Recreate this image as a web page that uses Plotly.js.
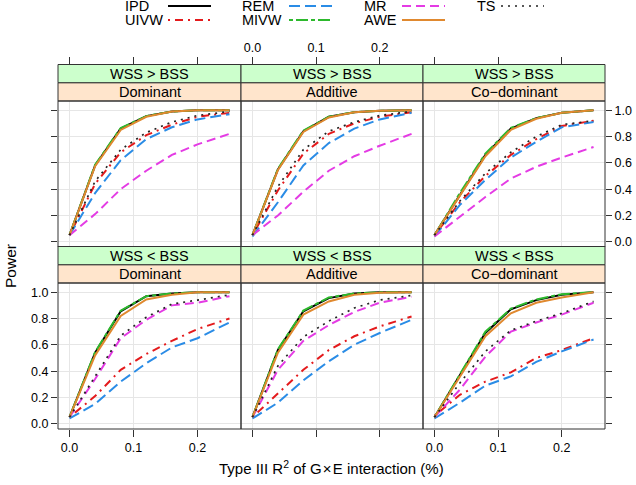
<!DOCTYPE html>
<html>
<head>
<meta charset="utf-8">
<script src="https://cdn.plot.ly/plotly-3.0.1.min.js"></script>
<style>html,body{margin:0;padding:0;background:#fff;}#chart{width:636px;height:485px;}</style>
</head>
<body>
<div id="chart"></div>
<script>
// x values: Type III R^2 of GxE interaction
const xR2 = [0, 0.04, 0.08, 0.12, 0.16, 0.20, 0.25];
// panel labels (order: top-left, top-mid, top-right, bottom-left, bottom-mid, bottom-right)
const stripOuter = ['WSS > BSS', 'WSS > BSS', 'WSS > BSS', 'WSS < BSS', 'WSS < BSS', 'WSS < BSS'];
const stripInner = ['Dominant', 'Additive', 'Co\u2212dominant', 'Dominant', 'Additive', 'Co\u2212dominant'];
const xTickVals = [0, 0.1, 0.2];
const xTickText = ['0.0', '0.1', '0.2'];
const yTickVals = [0, 0.2, 0.4, 0.6, 0.8, 1.0];
const yTickText = ['0.0', '0.2', '0.4', '0.6', '0.8', '1.0'];

// power values per method, one row per panel
const IPD = [
  [0.05, 0.58, 0.86, 0.955, 0.99, 1.0, 1.0],
  [0.05, 0.55, 0.84, 0.95, 0.985, 0.995, 1.0],
  [0.05, 0.36, 0.66, 0.86, 0.94, 0.98, 1.0],
  [0.05, 0.54, 0.855, 0.97, 0.99, 1.0, 1.0],
  [0.05, 0.56, 0.855, 0.955, 0.99, 1.0, 1.0],
  [0.05, 0.37, 0.69, 0.87, 0.94, 0.98, 1.0]
];
const UIVW = [
  [0.05, 0.44, 0.68, 0.81, 0.89, 0.95, 0.98],
  [0.05, 0.39, 0.67, 0.82, 0.90, 0.95, 0.985],
  [0.05, 0.30, 0.50, 0.66, 0.78, 0.88, 0.92],
  [0.05, 0.21, 0.41, 0.53, 0.63, 0.72, 0.80],
  [0.05, 0.23, 0.41, 0.56, 0.665, 0.74, 0.815],
  [0.06, 0.22, 0.32, 0.39, 0.50, 0.56, 0.65]
];
const REM = [
  [0.05, 0.37, 0.62, 0.78, 0.87, 0.93, 0.97],
  [0.04, 0.30, 0.58, 0.75, 0.86, 0.93, 0.98],
  [0.04, 0.28, 0.47, 0.64, 0.76, 0.87, 0.91],
  [0.04, 0.15, 0.32, 0.46, 0.58, 0.65, 0.77],
  [0.04, 0.16, 0.33, 0.475, 0.60, 0.69, 0.79],
  [0.04, 0.16, 0.29, 0.36, 0.47, 0.55, 0.64]
];
const MIVW = [
  [0.05, 0.585, 0.865, 0.955, 0.99, 1.0, 1.0],
  [0.05, 0.555, 0.845, 0.95, 0.985, 0.995, 1.0],
  [0.05, 0.37, 0.67, 0.865, 0.94, 0.98, 1.0],
  [0.05, 0.545, 0.86, 0.97, 0.99, 1.0, 1.0],
  [0.05, 0.565, 0.86, 0.96, 0.99, 1.0, 1.0],
  [0.05, 0.375, 0.70, 0.875, 0.945, 0.985, 1.0]
];
const MR = [
  [0.05, 0.21, 0.40, 0.54, 0.66, 0.74, 0.82],
  [0.05, 0.20, 0.38, 0.54, 0.65, 0.73, 0.82],
  [0.04, 0.19, 0.34, 0.48, 0.57, 0.64, 0.72],
  [0.05, 0.34, 0.65, 0.79, 0.90, 0.92, 0.97],
  [0.05, 0.41, 0.63, 0.75, 0.85, 0.92, 0.965],
  [0.05, 0.26, 0.51, 0.70, 0.77, 0.83, 0.92]
];
const AWE = [
  [0.05, 0.575, 0.85, 0.95, 0.99, 1.0, 1.0],
  [0.05, 0.545, 0.835, 0.945, 0.985, 0.995, 1.0],
  [0.05, 0.355, 0.65, 0.85, 0.935, 0.98, 1.0],
  [0.05, 0.52, 0.82, 0.945, 0.98, 1.0, 1.0],
  [0.05, 0.54, 0.83, 0.93, 0.98, 0.995, 1.0],
  [0.05, 0.36, 0.665, 0.84, 0.92, 0.96, 1.0]
];
const TS = [
  [0.05, 0.46, 0.70, 0.83, 0.91, 0.96, 0.99],
  [0.05, 0.42, 0.70, 0.84, 0.91, 0.96, 0.99],
  [0.05, 0.31, 0.52, 0.68, 0.80, 0.89, 0.92],
  [0.05, 0.36, 0.67, 0.81, 0.91, 0.94, 0.98],
  [0.05, 0.44, 0.66, 0.78, 0.88, 0.94, 0.975],
  [0.05, 0.31, 0.55, 0.71, 0.78, 0.84, 0.93]
];

const methodNames = ['IPD', 'UIVW', 'REM', 'MIVW', 'MR', 'AWE', 'TS'];
const methodData = [IPD, UIVW, REM, MIVW, MR, AWE, TS];
const methodColors = ['#000000', '#E41A1C', '#2A8CE6', '#2DB92D', '#E43BE4', '#E0892F', '#222222'];
const methodDash = ['solid', '2px,5px,8px,5px', '11px,5px', '4px,3px,12px,3px', '9px,5px', 'solid', '2px,5px'];
const methodWidth = [2, 2, 2, 2, 2, 2, 1.7];

// layout geometry (pixels)
const W = 636, H = 485;
const colPx = [[58, 241], [241, 423], [423, 605]];
const rowPx = [[101, 247], [283, 429]];
const FONT = 'Liberation Sans, Arial, Helvetica, sans-serif';

const traces = [];
for (let p = 0; p < 6; p++) {
  for (let m = 0; m < methodNames.length; m++) {
    traces.push({
      type: 'scatter', mode: 'lines',
      x: xR2, y: methodData[m][p],
      xaxis: 'x' + (p + 1), yaxis: 'y' + (p + 1),
      name: ' ',
      legend: m === 0 ? 'legend' : 'legend' + (m + 1),
      showlegend: p === 0,
      line: {color: methodColors[m], width: methodWidth[m], dash: methodDash[m]},
      hoverinfo: 'skip'
    });
  }
}

const layout = {
  width: W, height: H,
  margin: {l: 0, r: 0, t: 0, b: 0, autoexpand: false},
  paper_bgcolor: '#ffffff', plot_bgcolor: '#ffffff',
  font: {family: FONT, size: 12.5, color: '#000'},
  shapes: [], annotations: []
};

const xRange = [-0.018, 0.268];
const yRange = [-0.04, 1.07];
for (let p = 0; p < 6; p++) {
  const r = Math.floor(p / 3), c = p % 3;
  const xd = [colPx[c][0] / W, colPx[c][1] / W];
  const yd = [1 - rowPx[r][1] / H, 1 - rowPx[r][0] / H];
  const xa = {
    domain: xd, range: xRange, tickvals: xTickVals, ticktext: xTickText,
    showgrid: true, gridcolor: '#E6E6E6', gridwidth: 1, zeroline: false, showline: false,
    ticks: 'outside', ticklen: 7, tickcolor: '#333', tickwidth: 1,
    tickfont: {family: FONT, size: 12.5, color: '#000'}, fixedrange: true
  };
  if (r === 0) {
    xa.anchor = 'free'; xa.position = 1 - 64 / H; xa.side = 'top';
    xa.showticklabels = (c === 1);
  } else {
    xa.anchor = 'y' + (p + 1); xa.side = 'bottom';
    xa.showticklabels = (c !== 1);
  }
  const ya = {
    domain: yd, range: yRange, tickvals: yTickVals, ticktext: yTickText,
    anchor: 'x' + (p + 1),
    showgrid: true, gridcolor: '#E6E6E6', gridwidth: 1, zeroline: false, showline: false,
    tickcolor: '#333', tickwidth: 1, ticklen: 6,
    tickfont: {family: FONT, size: 12.5, color: '#000'}, fixedrange: true
  };
  if (c === 0) { ya.side = 'left'; ya.ticks = 'outside'; ya.showticklabels = (r === 1); }
  else if (c === 2) { ya.side = 'right'; ya.ticks = 'outside'; ya.showticklabels = (r === 0); }
  else { ya.ticks = ''; ya.showticklabels = false; }
  layout['xaxis' + (p + 1)] = xa;
  layout['yaxis' + (p + 1)] = ya;

  const xref = 'x' + (p + 1) + ' domain', yref = 'y' + (p + 1) + ' domain';
  const ph = rowPx[r][1] - rowPx[r][0];
  const s1 = 1 + 18.3 / ph, s2 = 1 + 36.5 / ph;
  layout.shapes.push({type: 'rect', xref, yref, x0: 0, x1: 1, y0: 1, y1: s1,
    fillcolor: '#FFE5CC', line: {color: '#333', width: 1}, layer: 'above'});
  layout.shapes.push({type: 'rect', xref, yref, x0: 0, x1: 1, y0: s1, y1: s2,
    fillcolor: '#CCFFCC', line: {color: '#333', width: 1}, layer: 'above'});
  layout.shapes.push({type: 'rect', xref, yref, x0: 0, x1: 1, y0: 0, y1: 1,
    fillcolor: 'rgba(0,0,0,0)', line: {color: '#333', width: 1}, layer: 'above'});
  layout.annotations.push({xref, yref, x: 0.5, y: (1 + s1) / 2, text: stripInner[p],
    showarrow: false, xanchor: 'center', yanchor: 'middle', font: {family: FONT, size: 14.5, color: '#000'}});
  layout.annotations.push({xref, yref, x: 0.5, y: (s1 + s2) / 2, text: stripOuter[p],
    showarrow: false, xanchor: 'center', yanchor: 'middle', font: {family: FONT, size: 14.5, color: '#000'}});
}

// axis titles
layout.annotations.push({xref: 'paper', yref: 'paper', x: 331.5 / W, y: 1 - 467 / H,
  text: 'Type III R<sup>2</sup> of G\u200A\u00D7\u200AE interaction (%)', showarrow: false,
  xanchor: 'center', yanchor: 'middle', font: {family: FONT, size: 15, color: '#000'}});
layout.annotations.push({xref: 'paper', yref: 'paper', x: 10 / W, y: 1 - 266 / H,
  text: 'Power', textangle: -90, showarrow: false,
  xanchor: 'center', yanchor: 'middle', font: {family: FONT, size: 15.5, color: '#000'}});

// legend: names as text, line samples from per-method legends
const legText = [[122.5, 6.5], [122.5, 20.5], [240, 6.5], [240, 20.5], [361.5, 6.5], [361.5, 20.5], [475, 6.5]];
const legLine = [[163, 6], [163, 20], [284, 6], [284, 20], [397, 6], [397, 20], [496, 6]];
for (let m = 0; m < methodNames.length; m++) {
  layout.annotations.push({xref: 'paper', yref: 'paper', x: legText[m][0] / W, y: 1 - legText[m][1] / H,
    text: methodNames[m], showarrow: false, xanchor: 'left', yanchor: 'middle',
    font: {family: FONT, size: 14.5, color: '#000'}});
  const key = m === 0 ? 'legend' : 'legend' + (m + 1);
  layout[key] = {
    x: legLine[m][0] / W, y: 1 - legLine[m][1] / H, xanchor: 'left', yanchor: 'middle',
    orientation: 'h', bgcolor: 'rgba(0,0,0,0)', borderwidth: 0,
    font: {family: FONT, size: 10, color: '#000'},
    itemwidth: 43, itemclick: false, itemdoubleclick: false
  };
}

Plotly.newPlot('chart', traces, layout, {staticPlot: true, displayModeBar: false});
</script>
</body>
</html>
